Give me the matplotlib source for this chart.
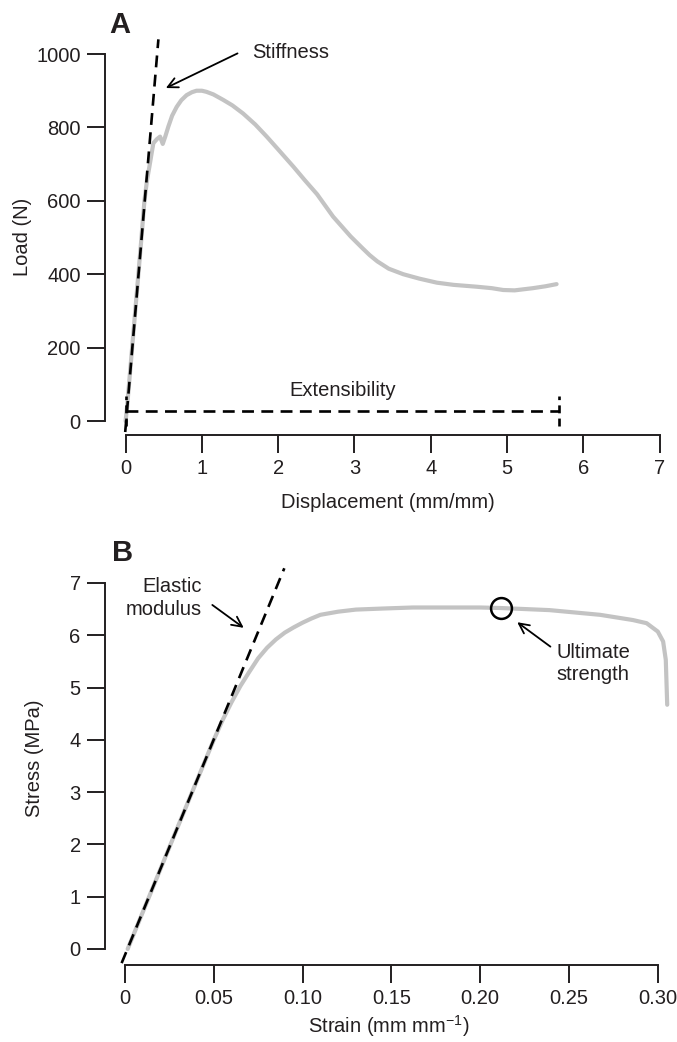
import matplotlib
matplotlib.use("Agg")
import matplotlib.pyplot as plt

plt.rcParams['font.family'] = ['Liberation Sans', 'DejaVu Sans']
plt.rcParams['mathtext.fontset'] = 'custom'
plt.rcParams['mathtext.rm'] = 'Liberation Sans'
plt.rcParams['mathtext.it'] = 'Liberation Sans:italic'

# ---------------- data ----------------
# Panel A: load-displacement
dispA = [0, 0.02, 0.1, 0.2, 0.247, 0.28, 0.312, 0.34, 0.364, 0.41, 0.452, 0.487,
         0.52, 0.56, 0.61, 0.67, 0.73, 0.80, 0.87, 0.93, 1.0, 1.06, 1.15, 1.28,
         1.4, 1.54, 1.7, 1.85, 2.0, 2.2, 2.35, 2.51, 2.72, 2.95, 3.1, 3.2,
         3.3, 3.45, 3.64, 3.85, 4.08, 4.3, 4.6, 4.8, 4.95, 5.1, 5.34, 5.5, 5.65]
loadA = [0, 40, 235, 480, 600, 655, 693, 728, 757, 768, 775, 755,
         775, 802, 832, 856, 874, 888, 896, 900, 900, 897, 890, 875,
         860, 838, 808, 775, 740, 693, 656, 618, 557, 503, 472, 452,
         435, 415, 400, 388, 377, 371, 366, 362, 357, 356, 362, 367, 373]
stiff_x = [-0.005, 0.43]
stiff_y = [-30, 1040]
ext_x = [0, 5.68]
ext_y = [28, 28]
ext_bracket_y = [-14, 68]

# Panel B: stress-strain
strainB = [0.0015, 0.03, 0.05, 0.055, 0.06, 0.065, 0.07, 0.075, 0.08, 0.085,
           0.09, 0.095, 0.1, 0.105, 0.11, 0.12, 0.13, 0.145, 0.162, 0.2,
           0.2115, 0.239, 0.2675, 0.286, 0.2937, 0.300, 0.303, 0.3045, 0.3053]
stressB = [0.0, 2.36, 4.0, 4.38, 4.72, 5.03, 5.3, 5.56, 5.76, 5.92,
           6.05, 6.15, 6.24, 6.32, 6.39, 6.45, 6.49, 6.51, 6.53, 6.53,
           6.52, 6.48, 6.39, 6.29, 6.23, 6.07, 5.88, 5.53, 4.67]
mod_x = [-0.0019, 0.0897]
mod_y = [-0.27, 7.28]
ult_x = 0.2115
ult_y = 6.52

xticksA = [0, 1, 2, 3, 4, 5, 6, 7]
yticksA = [0, 200, 400, 600, 800, 1000]
xticksB = [0, 0.05, 0.10, 0.15, 0.20, 0.25, 0.30]
xlabelsB = ['0', '0.05', '0.10', '0.15', '0.20', '0.25', '0.30']
yticksB = [0, 1, 2, 3, 4, 5, 6, 7]

# ---------------- style ----------------
W, H = 677, 1042
DPI = 100
TXT = '#231f20'
GRAY = '#c3c3c3'
FS = 14.5

fig = plt.figure(figsize=(W / DPI, H / DPI), dpi=DPI)


def rect(x0, x1, ytop, ybot):
    return [x0 / W, (H - ybot) / H, (x1 - x0) / W, (ybot - ytop) / H]


def style(ax, xb, yb):
    for s in ['top', 'right']:
        ax.spines[s].set_visible(False)
    for s in ['left', 'bottom']:
        ax.spines[s].set_linewidth(1.4)
        ax.spines[s].set_color(TXT)
    ax.spines['bottom'].set_bounds(*xb)
    ax.spines['left'].set_bounds(*yb)
    ax.tick_params(direction='out', length=13, width=1.4, color=TXT,
                   labelsize=FS, labelcolor=TXT, pad=4.5)


DASH = dict(color='black', lw=1.9, dashes=(4.5, 2.8))
LINE = dict(color=GRAY, lw=3, solid_capstyle='round', solid_joinstyle='round', zorder=2)

# ---------------- panel A ----------------
axA = fig.add_axes(rect(105, 671, 32, 435))
axA.set_xlim(-0.27, 7.15)
axA.set_ylim(-38.1, 1060)
axA.plot(dispA, loadA, **LINE)
axA.plot(stiff_x, stiff_y, **DASH, zorder=3)
axA.plot(ext_x, ext_y, **DASH, zorder=3)
axA.plot([ext_x[0]] * 2, ext_bracket_y, color='black', lw=1.9, dashes=(3, 2), zorder=3)
axA.plot([ext_x[1]] * 2, ext_bracket_y, color='black', lw=1.9, dashes=(3, 2), zorder=3)
axA.text(2.84, 82, 'Extensibility', fontsize=FS, color=TXT, ha='center', va='center')
axA.annotate('', xy=(0.495, 904), xytext=(1.50, 1005),
             arrowprops=dict(arrowstyle='->', color='black', lw=1.3,
                             mutation_scale=18))
axA.text(1.66, 1003, 'Stiffness', fontsize=FS, color=TXT, ha='left', va='center')
axA.set_xticks(xticksA)
axA.set_yticks(yticksA)
style(axA, (0, 7), (0, 1000))
axA.set_xlabel('Displacement (mm/mm)', fontsize=FS, color=TXT)
axA.set_ylabel('Load (N)', fontsize=FS, color=TXT)
axA.xaxis.set_label_coords(0.5, (435 - 502) / 403, transform=axA.transAxes)
axA.yaxis.set_label_coords((22 - 105) / 566, 0.5 + (237 - 233.5) / -403, transform=axA.transAxes)
axA.xaxis.label.set_va('center')
axA.yaxis.label.set_va('center')
fig.text(120 / W, 1 - 25 / H, 'A', fontsize=21, fontweight='bold', color=TXT,
         ha='center', va='center')

# ---------------- panel B ----------------
axB = fig.add_axes(rect(105, 672, 562, 965))
axB.set_xlim(-0.01126, 0.308)
axB.set_ylim(-0.306, 7.4)
axB.plot(strainB, stressB, **LINE)
axB.plot(mod_x, mod_y, **DASH, zorder=3)
axB.plot([ult_x], [ult_y], 'o', ms=15, mfc='none', mec='black', mew=1.8, zorder=4)
axB.annotate('', xy=(0.0681, 6.11), xytext=(0.0479, 6.61),
             arrowprops=dict(arrowstyle='->', color='black', lw=1.3,
                             mutation_scale=18))
axB.text(0.0432, 6.71, 'Elastic\nmodulus', fontsize=FS, color=TXT, ha='right',
         va='center', linespacing=1.25)
axB.annotate('', xy=(0.2196, 6.28), xytext=(0.2408, 5.75),
             arrowprops=dict(arrowstyle='->', color='black', lw=1.3,
                             mutation_scale=18))
axB.text(0.2432, 5.46, 'Ultimate\nstrength', fontsize=FS, color=TXT, ha='left',
         va='center', linespacing=1.25)
axB.set_xticks(xticksB)
axB.set_xticklabels(xlabelsB)
axB.set_yticks(yticksB)
style(axB, (0, 0.30), (0, 7))
axB.set_xlabel(r'Strain (mm mm$^{\mathrm{-1}}$)', fontsize=FS, color=TXT)
axB.set_ylabel('Stress (MPa)', fontsize=FS, color=TXT)
axB.xaxis.set_label_coords(0.5, (965 - 1026) / 403, transform=axB.transAxes)
axB.yaxis.set_label_coords((35 - 105) / 567, (965 - 758) / 403, transform=axB.transAxes)
axB.xaxis.label.set_va('center')
axB.yaxis.label.set_va('center')
fig.text(123 / W, 1 - 553 / H, 'B', fontsize=21, fontweight='bold', color=TXT,
         ha='center', va='center')

fig.savefig('out.png', dpi=DPI)
